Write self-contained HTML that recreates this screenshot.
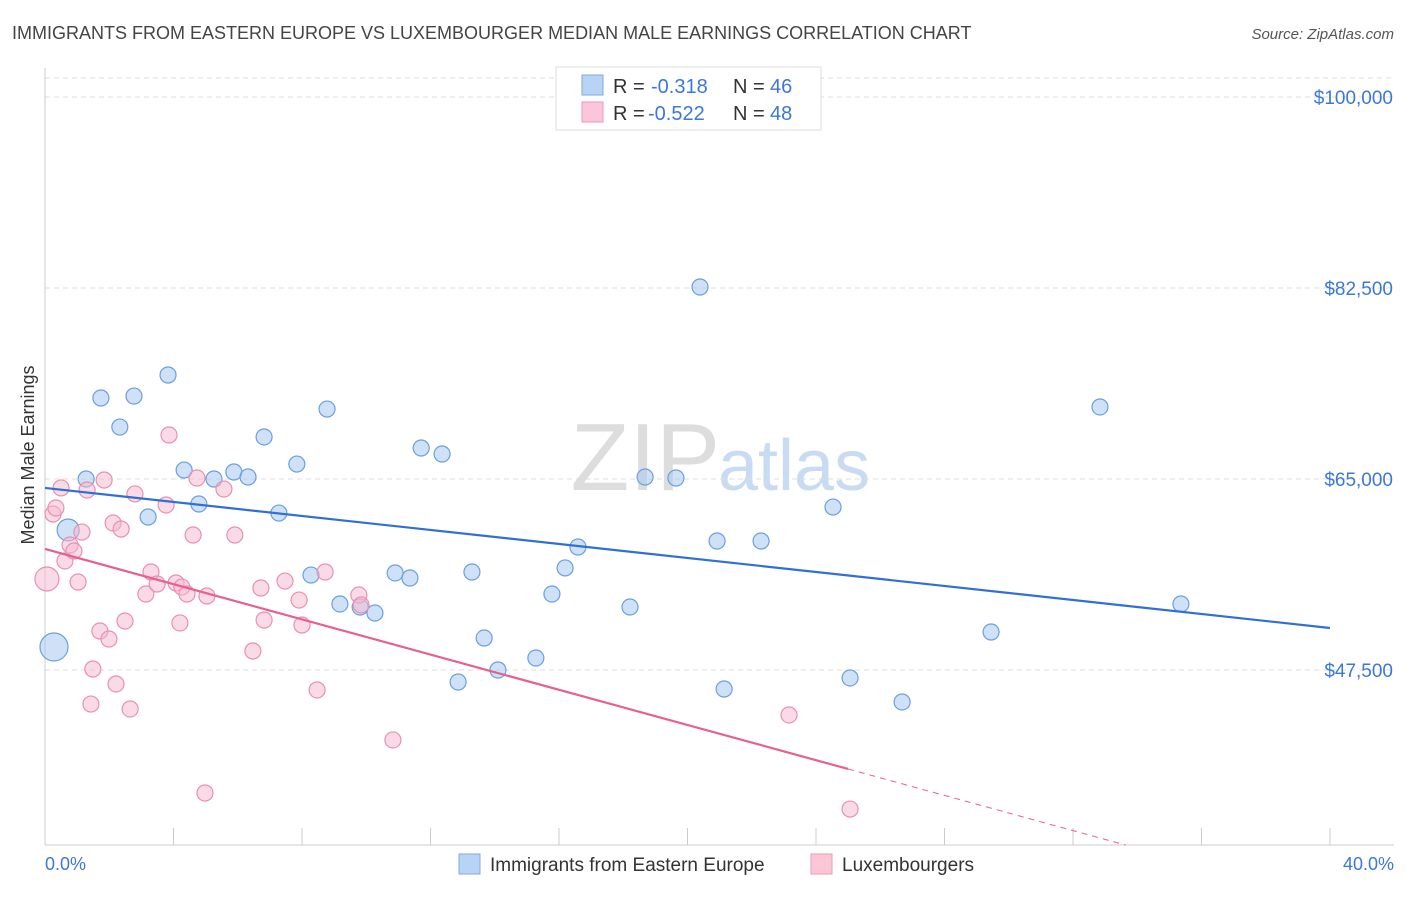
<!DOCTYPE html>
<html><head><meta charset="utf-8"><style>
body{margin:0;background:#fff;font-family:"Liberation Sans",sans-serif;}
svg text{font-family:"Liberation Sans",sans-serif;}
</style></head><body>
<svg id="chart" width="1406" height="892" viewBox="0 0 1406 892">
<text x="12" y="39" font-size="18" fill="#444">IMMIGRANTS FROM EASTERN EUROPE VS LUXEMBOURGER MEDIAN MALE EARNINGS CORRELATION CHART</text>
<text x="1394" y="39" font-size="15" fill="#555" font-style="italic" text-anchor="end">Source: ZipAtlas.com</text>
<text x="720" y="490" font-size="96" fill="#ddd" text-anchor="end" font-family="Liberation Serif">ZIP</text>
<text x="718" y="490" font-size="72" fill="#c8dbf3">atlas</text>
<g id="grid"></g>
<g id="axes"></g>
<g id="marks"></g>
<text transform="translate(34,455) rotate(-90)" font-size="18" fill="#333" text-anchor="middle">Median Male Earnings</text>
<text x="45" y="870" font-size="18" fill="#3b78d8">0.0%</text>
<text x="1394" y="870" font-size="18" fill="#3b78d8" text-anchor="end">40.0%</text>
<g>
<rect x="556" y="67" width="265" height="63" fill="#fff" stroke="#ddd"/>
<rect x="582" y="75" width="21" height="20" fill="#b9d3f5" stroke="#7aa8e6"/>
<rect x="582" y="102" width="21" height="20" fill="#fbc6d6" stroke="#eb9ab6"/>
<text x="613" y="93" font-size="20" fill="#333">R = </text><text x="651" y="93" font-size="20" fill="#3b78d8">-0.318</text>
<text x="733" y="93" font-size="20" fill="#333">N = </text><text x="770" y="93" font-size="20" fill="#3b78d8">46</text>
<text x="613" y="120" font-size="20" fill="#333">R = </text><text x="648" y="120" font-size="20" fill="#3b78d8">-0.522</text>
<text x="733" y="120" font-size="20" fill="#333">N = </text><text x="770" y="120" font-size="20" fill="#3b78d8">48</text>
</g>
<g>
<rect x="459" y="854" width="21" height="20" fill="#b9d3f5" stroke="#7aa8e6"/>
<text x="490" y="871" font-size="19" fill="#333">Immigrants from Eastern Europe</text>
<rect x="811" y="854" width="21" height="20" fill="#fbc6d6" stroke="#eb9ab6"/>
<text x="842" y="871" font-size="19" fill="#333">Luxembourgers</text>
</g>
</svg>
<script>
const yTicks=[100000,82500,65000,47500];
const yTickLabels=["$100,000","$82,500","$65,000","$47,500"];
const xTicks=[0,4,8,12,16,20,24,28,32,36,40];
const blueX=[0.28,0.72,1.28,1.74,2.33,2.77,3.21,3.83,4.33,4.79,5.26,5.88,6.32,6.82,7.28,7.84,8.28,8.78,9.18,9.81,10.27,10.90,11.36,11.71,12.36,12.86,13.29,13.67,14.10,15.28,15.78,16.19,16.59,18.21,18.68,19.64,20.39,20.92,21.14,22.29,24.53,25.06,26.68,29.45,32.84,35.36];
const blueY=[49.61,60.33,65.0,72.42,69.76,72.60,61.52,74.53,65.82,62.71,65.0,65.64,65.18,68.85,61.88,66.37,56.20,71.41,53.55,53.27,52.72,56.39,55.93,67.84,67.29,46.40,56.48,50.43,47.50,48.60,54.46,56.85,58.77,53.27,65.18,65.09,82.59,59.32,45.76,59.32,62.43,46.77,44.57,50.98,71.60,53.55];
const pinkX=[0.06,0.25,0.34,0.50,0.62,0.78,0.90,1.03,1.15,1.31,1.49,1.43,1.71,1.84,1.99,2.12,2.21,2.37,2.49,2.65,2.80,3.14,3.30,3.49,3.77,3.86,4.08,4.20,4.26,4.42,4.61,4.73,4.98,5.04,5.57,5.91,6.47,6.72,6.82,7.47,7.91,8.00,8.47,8.72,9.77,9.84,10.83,23.16,25.06];
const pinkY=[55.84,61.79,62.34,64.18,57.49,58.95,58.40,55.56,60.14,63.99,47.59,44.38,51.07,64.91,50.34,60.97,46.22,60.42,51.99,43.93,63.63,54.46,56.48,55.38,62.62,69.03,55.47,51.81,55.10,54.46,59.87,65.09,36.23,54.28,64.08,59.87,49.24,55.01,52.08,55.65,53.91,51.62,45.67,56.48,54.37,53.46,41.09,43.38,34.76];
const blueR={0:14,1:11};
const pinkR={0:12};
const blueTrend=[64.18,51.35];
const pinkTrend=[58.59,38.43];
const pinkSolidEnd=25.0;

const NS="http://www.w3.org/2000/svg";
const X=v=>45+v/40*1285;
const Y=v=>97+(100000-v)*191/17500;
function mk(tag,attrs,parent){const e=document.createElementNS(NS,tag);for(const k in attrs)e.setAttribute(k,attrs[k]);parent.appendChild(e);return e;}
const grid=document.getElementById('grid'),axes=document.getElementById('axes'),marks=document.getElementById('marks');
yTicks.forEach((t,i)=>{
  const l=mk('line',{x1:45,x2:1394,y1:Y(t),y2:Y(t),stroke:'#ddd','stroke-dasharray':'5,4'},grid);
  
  
  const tx=mk('text',{x:1393,y:Y(t)+7,'font-size':19,fill:'#3b78d8','text-anchor':'end'},axes);
  tx.textContent=yTickLabels[i];
  
  
});
const gl=mk('line',{x1:45,x2:1394,y1:78,y2:78,stroke:'#ddd','stroke-dasharray':'5,4'},grid);


const ya=mk('line',{x1:45,x2:45,y1:68,y2:845,stroke:'#ccc'},axes);


const xa=mk('line',{x1:45,x2:1394,y1:845,y2:845,stroke:'#ccc'},axes);


xTicks.forEach(t=>{
  const l=mk('line',{x1:X(t),x2:X(t),y1:828,y2:845,stroke:'#ccc'},axes);
  
  
});
blueX.forEach((x,i)=>{
  const c=mk('circle',{cx:X(x),cy:Y(blueY[i]*1000),r:blueR[i]||8,fill:'rgba(168,200,240,0.55)',stroke:'#6a9fe0','stroke-width':1.2},marks);
  
  
});
pinkX.forEach((x,i)=>{
  const c=mk('circle',{cx:X(x),cy:Y(pinkY[i]*1000),r:pinkR[i]||8,fill:'rgba(245,184,204,0.5)',stroke:'#e890b0','stroke-width':1.2},marks);
  
  
});
const bt=mk('line',{x1:X(0),y1:Y(blueTrend[0]*1000),x2:X(40),y2:Y(blueTrend[1]*1000),stroke:'#2f6fd6','stroke-width':2.2},marks);


const slope=(pinkTrend[1]-pinkTrend[0])/pinkSolidEnd;
const pt=mk('line',{x1:X(0),y1:Y(pinkTrend[0]*1000),x2:X(pinkSolidEnd),y2:Y(pinkTrend[1]*1000),stroke:'#e8608e','stroke-width':2.2},marks);


// dashed extension, clipped at bottom axis
let xe=40,ye=pinkTrend[0]+slope*40;
if(Y(ye*1000)>845){ye=pinkTrend[0]+slope*((845-97)*17.5/191>0?0:0);const yv=(100000-(845-97)*17500/191)/1000;xe=(yv-pinkTrend[0])/slope;ye=yv;}
const pd=mk('line',{x1:X(pinkSolidEnd),y1:Y(pinkTrend[1]*1000),x2:X(xe),y2:Y(ye*1000),stroke:'#e8608e','stroke-width':1,'stroke-dasharray':'6,5'},marks);


</script>
</body></html>
